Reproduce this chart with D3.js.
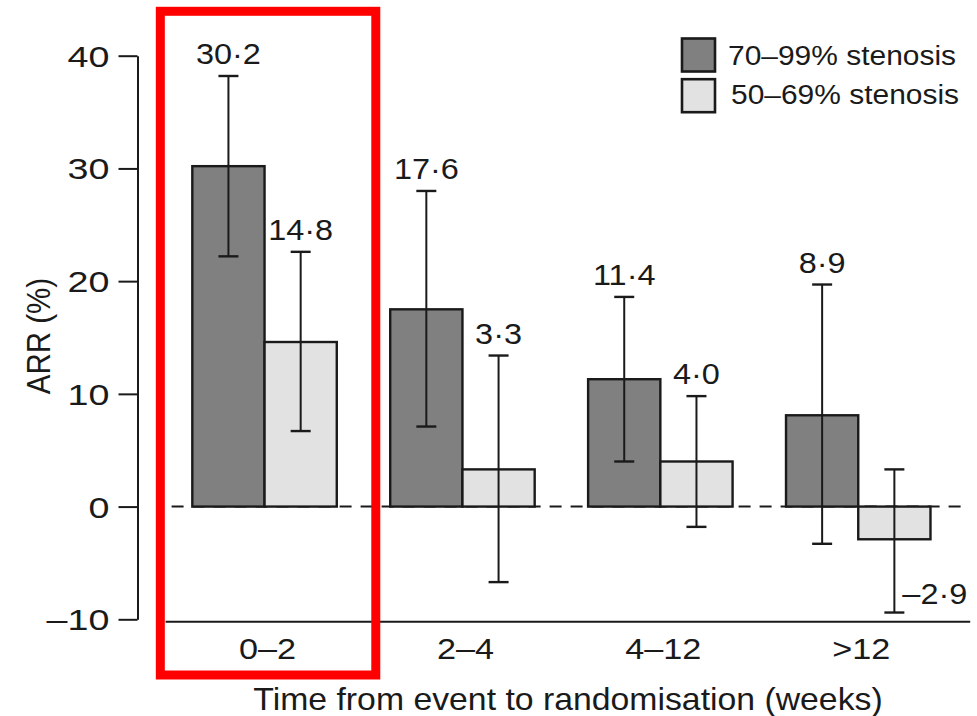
<!DOCTYPE html>
<html><head><meta charset="utf-8">
<script src="https://cdn.jsdelivr.net/npm/d3@7"></script>
<style>body{margin:0;background:#fff}svg{display:block}</style>
</head><body><svg id="chart" width="977" height="716"></svg>
<script>
// ---- data ----
const categories = ["0–2", "2–4", "4–12", ">12"];
const seriesKeys = ["severe", "moderate"];
const seriesNames = ["70–99% stenosis", "50–69% stenosis"];
const severe = [30.2, 17.5, 11.3, 8.1];
const severeLow = [22.2, 7.1, 4.0, -3.3];
const severeHigh = [38.2, 28.0, 18.6, 19.7];
const severeLabels = ["30·2", "17·6", "11·4", "8·9"];
const moderate = [14.6, 3.3, 4.0, -2.9];
const moderateLow = [6.7, -6.7, -1.8, -9.4];
const moderateHigh = [22.6, 13.4, 9.8, 3.3];
const moderateLabels = ["14·8", "3·3", "4·0", "–2·9"];
const yTicks = [-10, 0, 10, 20, 30, 40];
const xTitle = "Time from event to randomisation (weeks)";
const yTitle = "ARR (%)";

// ---- setup ----
const FONT = "'Liberation Sans', Arial, Helvetica, sans-serif";
const INK = "#1a1a1a";
const colors = { severe: "#808080", moderate: "#e2e2e2" };
const SX = 1.1; // horizontal glyph stretch of the original typesetting

const svg = d3.select("#chart");
const y = d3.scaleLinear().domain([-10, 40]).range([619.3, 55.7]);
const x = d3.scaleBand().domain(categories).range([165.6, 957.2])
  .paddingInner(0.27).paddingOuter(0.135);
const xs = d3.scaleBand().domain(seriesKeys).range([0, x.bandwidth()]);

const rows = categories.map((c, i) => [
  { cat: c, key: "severe", v: severe[i], lo: severeLow[i], hi: severeHigh[i], label: severeLabels[i] },
  { cat: c, key: "moderate", v: moderate[i], lo: moderateLow[i], hi: moderateHigh[i], label: moderateLabels[i] }
]);
const flat = rows.flat();

function stretchedText(parent, tx, ty, str, size, anchor, sx, extra) {
  const g = parent.append("g").attr("transform", `translate(${tx},${ty}) scale(${sx},1)` + (extra || ""));
  g.append("text").attr("text-anchor", anchor).attr("font-family", FONT)
    .attr("font-size", size).attr("fill", INK).text(str);
  return g;
}

// zero dashed reference line
const xEnd = x.range()[1] + 6;
svg.append("line").attr("x1", x.range()[0]).attr("x2", xEnd)
  .attr("y1", y(0)).attr("y2", y(0))
  .attr("stroke", INK).attr("stroke-width", 2).attr("stroke-dasharray", "12,9")
  .attr("stroke-dashoffset", -6);

// bottom baseline
svg.append("line").attr("x1", x.range()[0]).attr("x2", x.range()[1] + 13)
  .attr("y1", y(-10) + 2.4).attr("y2", y(-10) + 2.4)
  .attr("stroke", INK).attr("stroke-width", 2);

// bars
const groups = svg.append("g").selectAll("g").data(rows).join("g")
  .attr("transform", d => `translate(${x(d[0].cat)},0)`);
groups.selectAll("rect").data(d => d).join("rect")
  .attr("x", d => xs(d.key))
  .attr("y", d => y(Math.max(0, d.v)))
  .attr("width", xs.bandwidth())
  .attr("height", d => Math.abs(y(d.v) - y(0)))
  .attr("fill", d => colors[d.key])
  .attr("stroke", INK).attr("stroke-width", 2.4);

// error bars
const capW = 20;
const eb = groups.selectAll("g.eb").data(d => d).join("g").attr("class", "eb")
  .attr("transform", d => `translate(${xs(d.key) + xs.bandwidth() / 2},0)`);
eb.append("line").attr("y1", d => y(d.lo)).attr("y2", d => y(d.hi))
  .attr("stroke", INK).attr("stroke-width", 2);
eb.append("line").attr("x1", -capW / 2).attr("x2", capW / 2)
  .attr("y1", d => y(d.hi)).attr("y2", d => y(d.hi)).attr("stroke", INK).attr("stroke-width", 2.4);
eb.append("line").attr("x1", -capW / 2).attr("x2", capW / 2)
  .attr("y1", d => y(d.lo)).attr("y2", d => y(d.lo)).attr("stroke", INK).attr("stroke-width", 2.4);

// value labels
flat.forEach(d => {
  const cx = x(d.cat) + xs(d.key) + xs.bandwidth() / 2;
  if (d.v >= 0) {
    stretchedText(svg, cx, y(d.hi) - 12, d.label, 29.5, "middle", SX);
  } else {
    stretchedText(svg, cx + 8, y(d.lo) - 9, d.label, 29.5, "start", SX);
  }
});

// y axis
const yAxis = d3.axisLeft(y).tickValues(yTicks).tickSize(19).tickSizeOuter(0)
  .tickFormat(d => d < 0 ? "–" + Math.abs(d) : String(d));
const ya = svg.append("g").attr("transform", "translate(137.5,0)").call(yAxis);
ya.select(".domain").attr("stroke", INK).attr("stroke-width", 2);
ya.selectAll(".tick line").attr("stroke", INK).attr("stroke-width", 2);
ya.selectAll(".tick text").attr("x", null).attr("dy", "0.36em")
  .attr("transform", `translate(-28,0) scale(1.3,1)`)
  .attr("font-family", FONT).attr("font-size", 29).attr("fill", INK);

// x axis labels (no ticks)
const xAxis = d3.axisBottom(x).tickSize(0).tickSizeOuter(0);
const xa = svg.append("g").attr("transform", `translate(0,${y(-10)})`).call(xAxis);
xa.select(".domain").remove();
xa.selectAll(".tick text").attr("y", null).attr("dy", null)
  .attr("transform", `translate(3,40) scale(1.18,1)`)
  .attr("font-family", FONT).attr("font-size", 29).attr("fill", INK);

// axis titles
stretchedText(svg, 568, 710, xTitle, 31, "middle", 1.09);
stretchedText(svg, 50, 336, yTitle, 29.5, "middle", SX, " rotate(-90)");

// legend
const lg = svg.append("g").attr("transform", "translate(682,38.5)");
seriesKeys.forEach((k, i) => {
  lg.append("rect").attr("x", 0).attr("y", i * 40.7).attr("width", 33).attr("height", 33)
    .attr("fill", colors[k]).attr("stroke", INK).attr("stroke-width", 2.6);
  stretchedText(lg, 46 + i * 3, i * 38.5 + 26.5, seriesNames[i], 28, "start", 1.07);
});

// highlight box around first group (annotation)
const c0 = categories[0];
svg.append("rect").attr("x", x(c0) - 32).attr("y", 11.3)
  .attr("width", x.bandwidth() + 71).attr("height", 663.7)
  .attr("fill", "none").attr("stroke", "#ff0000").attr("stroke-width", 9);
</script></body></html>
